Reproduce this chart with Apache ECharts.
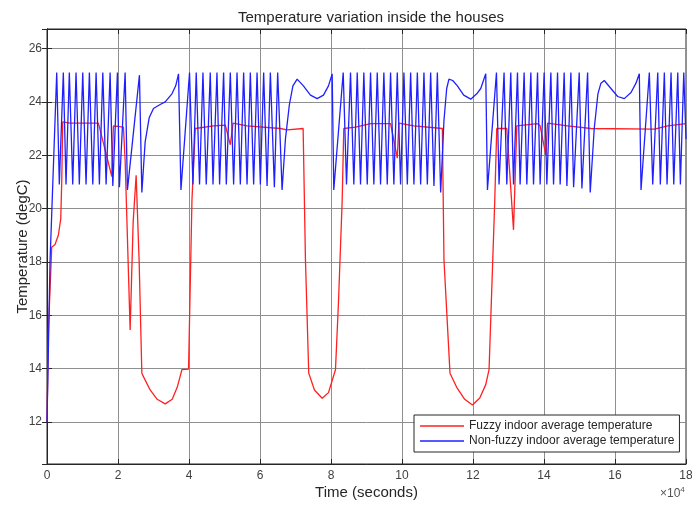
<!DOCTYPE html>
<html>
<head>
<meta charset="utf-8">
<script src="https://cdn.jsdelivr.net/npm/echarts@6/dist/echarts.min.js"></script>
<style>
html,body{margin:0;padding:0;background:#fff;}
#chart{width:692px;height:505px;}
</style>
</head>
<body>
<div id="chart"></div>
<script>
// Time in units of 10^4 seconds, temperature in degC
const xTickValues = [0, 2, 4, 6, 8, 10, 12, 14, 16, 18];
const yTickValues = [12, 14, 16, 18, 20, 22, 24, 26];
const seriesNames = ['Fuzzy indoor average temperature', 'Non-fuzzy indoor average temperature'];

const fuzzyPoints = [
  [0, 12.0], [0.042, 15.5], [0.133, 18.55], [0.226, 18.65], [0.319, 19.0], [0.387, 19.6],
  [0.415, 21.0], [0.443, 23.25], [0.649, 23.2], [1.448, 23.2], [1.826, 21.2], [1.871, 23.1],
  [2.153, 23.05], [2.201, 21.8], [2.342, 15.45], [2.427, 19.5], [2.511, 21.25], [2.596, 18.0],
  [2.672, 13.83], [2.717, 13.7], [2.906, 13.2], [3.104, 12.85], [3.330, 12.68], [3.527, 12.85],
  [3.668, 13.3], [3.801, 13.96], [3.987, 13.98], [4.083, 20.3], [4.176, 23.0], [4.692, 23.1],
  [5.023, 23.13], [5.164, 22.39], [5.240, 23.2], [5.635, 23.1], [6.574, 23.0], [6.764, 22.95],
  [7.215, 23.0], [7.280, 18.1], [7.373, 13.83], [7.534, 13.2], [7.751, 12.89], [7.929, 13.1],
  [8.126, 13.96], [8.211, 16.5], [8.315, 20.3], [8.360, 23.0], [8.691, 23.05], [9.114, 23.18],
  [9.678, 23.18], [9.867, 21.89], [9.912, 23.2], [10.336, 23.1], [11.137, 23.0], [11.182, 18.08],
  [11.352, 13.83], [11.541, 13.3], [11.766, 12.85], [11.984, 12.64], [12.190, 12.9], [12.359, 13.4],
  [12.452, 13.96], [12.613, 20.3], [12.669, 23.0], [12.952, 23.0], [13.141, 19.2], [13.234, 23.1],
  [13.818, 23.18], [13.891, 23.1], [14.052, 22.0], [14.100, 23.2], [14.664, 23.1], [15.322, 23.0],
  [17.108, 22.98], [17.486, 23.1], [18.0, 23.18]
];

const nonFuzzyPoints = [
  [0, 12.0], [0.085, 18.0],
  [0.274, 25.1], [0.347, 20.9], [0.460, 25.1], [0.536, 20.9], [0.629, 25.1], [0.725, 20.9],
  [0.818, 25.1], [0.911, 20.9], [1.007, 25.1], [1.100, 20.9], [1.194, 25.1], [1.290, 20.9],
  [1.383, 25.1], [1.476, 20.9], [1.572, 25.1], [1.665, 20.9], [1.778, 25.1], [1.854, 20.85],
  [1.984, 25.1], [2.040, 20.8], [2.201, 25.1], [2.266, 20.7], [2.604, 25.0], [2.672, 20.6],
  [2.765, 22.5], [2.878, 23.4], [2.999, 23.75], [3.188, 23.9], [3.330, 24.0], [3.519, 24.3],
  [3.626, 24.6], [3.705, 25.05], [3.773, 20.7],
  [4.015, 25.1], [4.111, 20.9], [4.204, 25.1], [4.297, 20.9], [4.393, 25.1], [4.486, 20.9],
  [4.599, 25.1], [4.676, 20.9], [4.788, 25.1], [4.862, 20.9], [4.975, 25.1], [5.051, 20.9],
  [5.164, 25.1], [5.257, 20.9], [5.353, 25.1], [5.446, 20.9], [5.539, 25.1], [5.635, 20.9],
  [5.728, 25.1], [5.821, 20.9], [5.917, 25.1], [6.010, 20.9], [6.103, 25.1], [6.199, 20.85],
  [6.292, 25.1], [6.405, 20.8], [6.498, 25.1], [6.622, 20.7],
  [6.716, 22.6], [6.828, 23.9], [6.927, 24.6], [7.046, 24.85], [7.223, 24.6], [7.421, 24.25],
  [7.610, 24.12], [7.788, 24.25], [7.929, 24.6], [8.033, 25.05], [8.078, 20.7],
  [8.344, 25.1], [8.437, 20.9], [8.550, 25.1], [8.643, 20.9], [8.739, 25.1], [8.832, 20.9],
  [8.925, 25.1], [9.021, 20.9], [9.114, 25.1], [9.207, 20.9], [9.303, 25.1], [9.396, 20.9],
  [9.489, 25.1], [9.585, 20.9], [9.678, 25.1], [9.771, 20.9], [9.867, 25.1], [9.960, 20.9],
  [10.054, 25.1], [10.150, 20.9], [10.243, 25.1], [10.336, 20.9], [10.432, 25.1], [10.525, 20.9],
  [10.618, 25.1], [10.714, 20.9], [10.807, 25.1], [10.900, 20.85], [10.996, 25.1], [11.089, 20.6],
  [11.182, 23.3], [11.259, 24.5], [11.323, 24.85], [11.428, 24.8], [11.560, 24.6], [11.738, 24.25],
  [11.936, 24.1], [12.105, 24.3], [12.218, 24.5], [12.359, 25.05], [12.407, 20.7],
  [12.661, 25.1], [12.734, 20.9], [12.875, 25.1], [12.952, 20.9], [13.064, 25.1], [13.141, 20.9],
  [13.253, 25.1], [13.327, 20.9], [13.440, 25.1], [13.516, 20.9], [13.629, 25.1], [13.705, 20.9],
  [13.818, 25.1], [13.891, 20.9], [14.004, 25.1], [14.080, 20.9], [14.193, 25.1], [14.269, 20.9],
  [14.382, 25.1], [14.455, 20.9], [14.568, 25.1], [14.645, 20.85], [14.757, 25.1], [14.834, 20.8],
  [14.992, 25.1], [15.068, 20.75], [15.228, 25.1], [15.302, 20.6],
  [15.415, 23.0], [15.519, 24.3], [15.604, 24.7], [15.697, 24.8], [15.886, 24.5], [16.075, 24.2],
  [16.262, 24.12], [16.451, 24.35], [16.591, 24.7], [16.685, 25.05], [16.733, 20.7],
  [16.967, 25.1], [17.063, 20.9], [17.204, 25.1], [17.277, 20.9], [17.390, 25.1], [17.466, 20.9],
  [17.579, 25.1], [17.655, 20.9], [17.768, 25.1], [17.842, 20.9], [17.937, 25.1], [18.0, 22.6]
];

const FONT = '"Liberation Sans", Arial, Helvetica, sans-serif';
const AX = '#262626';
const GRIDC = '#8f8f8f';
const Y_MIN = 10.425, Y_MAX = 26.73;
const RED = '#ff2020', BLUE = '#2020ff';

const chart = echarts.init(document.getElementById('chart'), null, {renderer: 'canvas'});

const yLabelFmt = v => (yTickValues.indexOf(Math.round(v * 1000) / 1000) >= 0 ? String(Math.round(v)) : '');
const xLabelFmt = v => (xTickValues.indexOf(v) >= 0 ? String(v) : '');

chart.setOption({
  animation: false,
  backgroundColor: '#fff',
  textStyle: {fontFamily: FONT},
  title: {
    text: 'Temperature variation inside the houses',
    left: 366, top: 5, textAlign: 'center',
    textStyle: {fontSize: 15, fontWeight: 'normal', color: AX, fontFamily: FONT}
  },
  grid: {left: 47, right: 6, top: 29, bottom: 41, show: true, borderColor: AX, borderWidth: 1,
         backgroundColor: '#fff', outerBoundsMode: 'none', containLabel: false},
  legend: {
    data: seriesNames,
    orient: 'vertical',
    left: 414, top: 415,
    padding: [5, 5, 5, 6],
    itemGap: 3,
    icon: 'rect',
    itemWidth: 44, itemHeight: 1.5,
    backgroundColor: '#fff',
    borderColor: AX, borderWidth: 1, borderRadius: 0,
    textStyle: {fontSize: 12, color: AX, fontFamily: FONT}
  },
  xAxis: [{
    type: 'value', min: 0, max: 18, interval: 2,
    name: 'Time (seconds)', nameLocation: 'middle', nameGap: 21, nameMoveOverlap: false,
    nameTextStyle: {fontSize: 15, color: AX, fontFamily: FONT},
    axisLine: {show: true, lineStyle: {color: AX}},
    axisTick: {show: true, inside: true, length: 5, lineStyle: {color: AX}},
    axisLabel: {fontSize: 12, color: '#404040', margin: 6, formatter: xLabelFmt, fontFamily: FONT},
    splitLine: {show: true, lineStyle: {color: GRIDC, width: 1}}
  }, {
    type: 'value', min: 0, max: 18, interval: 2, position: 'top',
    axisLine: {show: true, lineStyle: {color: AX}},
    axisTick: {show: true, inside: true, length: 5, lineStyle: {color: AX}},
    axisLabel: {show: false}, splitLine: {show: false}
  }],
  yAxis: [{
    type: 'value', min: Y_MIN, max: Y_MAX, splitNumber: 8,
    name: 'Temperature (degC)', nameLocation: 'middle', nameGap: 17, nameMoveOverlap: false,
    nameTextStyle: {fontSize: 15, color: AX, fontFamily: FONT},
    axisLine: {show: true, lineStyle: {color: AX}},
    axisTick: {show: true, inside: true, length: 5, lineStyle: {color: AX}},
    axisLabel: {fontSize: 12, color: '#404040', margin: 5, formatter: yLabelFmt, showMinLabel: false, showMaxLabel: false, fontFamily: FONT},
    splitLine: {show: true, lineStyle: {color: GRIDC, width: 1}}
  }, {
    type: 'value', min: Y_MIN, max: Y_MAX, splitNumber: 8, position: 'right',
    axisLine: {show: true, lineStyle: {color: AX}},
    axisTick: {show: true, inside: true, length: 5, lineStyle: {color: AX}},
    axisLabel: {show: false}, splitLine: {show: false}
  }],
  graphic: [{
    type: 'text', left: 660, top: 486,
    style: {
      text: '×10{s|4}',
      fill: '#555', font: '12px ' + FONT,
      rich: {s: {fontSize: 8, fill: '#555', padding: [0, 0, 7, 0], fontFamily: FONT}}
    }
  }],
  series: [{
    name: seriesNames[0], type: 'line', xAxisIndex: 0, yAxisIndex: 0,
    data: fuzzyPoints, showSymbol: false, symbol: 'none',
    lineStyle: {color: RED, width: 1.3}, itemStyle: {color: RED}, z: 2
  }, {
    name: seriesNames[1], type: 'line', xAxisIndex: 0, yAxisIndex: 0,
    data: nonFuzzyPoints, showSymbol: false, symbol: 'none',
    lineStyle: {color: BLUE, width: 1.3}, itemStyle: {color: BLUE}, z: 3
  }]
});
</script>
</body>
</html>
